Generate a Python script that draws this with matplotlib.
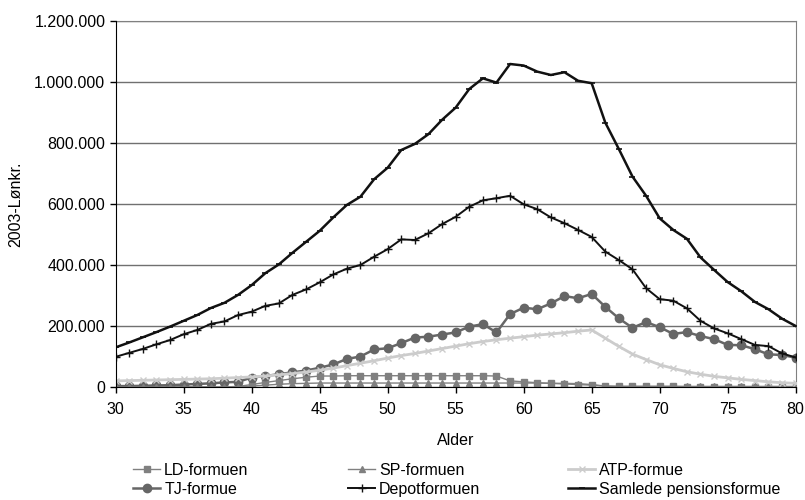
import matplotlib
matplotlib.use("Agg")
import matplotlib.pyplot as plt
from matplotlib.ticker import FuncFormatter, MultipleLocator

plt.rcParams['font.family'] = ['Liberation Sans', 'DejaVu Sans']

# alder 30..80
alder = list(range(30, 81))

# formuer i 2003-lønkroner (tusinder)
ld = [0, 0, 0, 0, 0, 0, 0, 0, 0, 2, 8, 15, 21, 27, 32, 36, 36, 37, 37, 37,
      37, 37, 37, 37, 37, 37, 37, 37, 36, 20, 17, 14, 12, 10, 8, 6, 3, 2, 2, 2,
      2, 2, 1, 1, 1, 1, 1, 1, 1, 1, 1]
sp = [0, 0, 0, 0, 0, 0, 0, 0, 0, 0, 3, 6, 9, 11, 12, 13, 13, 13, 13, 13,
      13, 13, 13, 13, 13, 13, 13, 13, 13, 13, 13, 13, 12, 12, 11, 8, 3, 2, 2, 2,
      2, 2, 2, 2, 2, 2, 2, 2, 2, 2, 2]
atp = [20, 21, 22, 23, 24, 25, 26, 27, 29, 31, 33, 36, 40, 44, 49, 55, 62, 70, 78, 86,
       95, 103, 110, 118, 126, 134, 142, 149, 155, 160, 165, 170, 174, 178, 183, 187, 160, 133, 108, 90,
       73, 61, 50, 42, 35, 30, 25, 21, 17, 14, 12]
tj = [3, 3, 4, 5, 6, 8, 10, 12, 15, 17, 31, 36, 42, 48, 54, 63, 74, 92, 100, 123,
      127, 144, 162, 165, 172, 179, 198, 206, 179, 239, 260, 255, 274, 298, 291, 305, 263, 225, 194, 213,
      196, 174, 180, 167, 157, 138, 137, 124, 107, 105, 96]
depot = [99, 112, 125, 140, 154, 173, 187, 207, 215, 236, 247, 266, 274, 302, 320, 343, 369, 388, 400, 427,
         452, 484, 482, 504, 534, 558, 591, 612, 619, 627, 599, 583, 556, 537, 515, 492, 444, 416, 386, 324,
         288, 283, 258, 217, 192, 176, 157, 138, 134, 110, 97]
samlet = [130, 146, 163, 180, 198, 217, 236, 259, 276, 302, 334, 373, 402, 440, 476, 512, 556, 597, 624, 681,
          719, 777, 797, 829, 876, 916, 977, 1012, 998, 1059, 1054, 1034, 1023, 1032, 1004, 996, 867, 780, 690, 627,
          553, 515, 486, 425, 384, 344, 314, 279, 255, 224, 200]

# one legend column per entry pair
kolonner = [
    [("LD-formuen", ld, dict(color="#808080", marker="s", ms=4.5, lw=1.0)),
     ("TJ-formue", tj, dict(color="#666666", marker="o", ms=6, lw=1.8))],
    [("SP-formuen", sp, dict(color="#808080", marker="^", ms=4.5, lw=1.0)),
     ("Depotformuen", depot, dict(color="#111111", marker="+", ms=6, mew=1.0, lw=1.4))],
    [("ATP-formue", atp, dict(color="#cccccc", marker="x", ms=5, mew=1.0, lw=2.0)),
     ("Samlede pensionsformue", samlet, dict(color="#111111", marker="_", ms=5, mew=1.2, lw=1.8))],
]
kolonne_x = [133, 348, 568]

fig = plt.figure(figsize=(8.05, 5.0), dpi=100)
ax = fig.add_axes([0.1437, 0.226, 0.8447, 0.732])

handles = []
for kol in kolonner:
    h = []
    for navn, vaerdier, stil in kol:
        line, = ax.plot(alder, [v * 1000 for v in vaerdier], label=navn, zorder=3, **stil)
        h.append(line)
    handles.append(h)

ax.set_xlim(30, 80)
ax.set_ylim(0, 1200000)
ax.xaxis.set_major_locator(MultipleLocator(5))
ax.yaxis.set_major_locator(MultipleLocator(200000))
ax.yaxis.set_major_formatter(FuncFormatter(lambda v, p: f"{int(v):,}".replace(",", ".")))
ax.grid(axis="y", color="#707070", lw=1.0, zorder=1)
ax.tick_params(labelsize=11.5, length=4, width=1, direction="out", color="black")
ax.tick_params(axis="x", pad=7)

for s in ("top", "right"):
    ax.spines[s].set_color("#808080")
for s in ("left", "bottom"):
    ax.spines[s].set_color("black")
    ax.spines[s].set_zorder(4)

ax.set_xlabel("Alder", fontsize=11.5, labelpad=11)
ax.set_ylabel("2003-Lønkr.", fontsize=11.5, labelpad=8)

for h, x in zip(handles, kolonne_x):
    fig.legend(handles=h, loc="upper left", bbox_to_anchor=(x / 805, 1 - 463 / 500),
               frameon=False, fontsize=11.5, handlelength=1.7, handletextpad=0.25,
               labelspacing=0.25, borderpad=0, borderaxespad=0)

fig.savefig("out.png", dpi=100)
